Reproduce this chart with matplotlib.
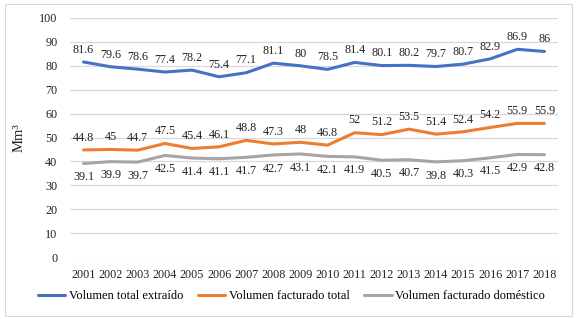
import matplotlib
matplotlib.use("Agg")
import matplotlib.pyplot as plt
from matplotlib.patches import Rectangle

years = [str(y) for y in range(2001, 2019)]
extraido = [81.6, 79.6, 78.6, 77.4, 78.2, 75.4, 77.1, 81.1, 80, 78.5, 81.4, 80.1, 80.2, 79.7, 80.7, 82.9, 86.9, 86]
fact_total = [44.8, 45, 44.7, 47.5, 45.4, 46.1, 48.8, 47.3, 48, 46.8, 52, 51.2, 53.5, 51.4, 52.4, 54.2, 55.9, 55.9]
fact_dom = [39.1, 39.9, 39.7, 42.5, 41.4, 41.1, 41.7, 42.7, 43.1, 42.1, 41.9, 40.5, 40.7, 39.8, 40.3, 41.5, 42.9, 42.8]
labels = ["Volumen total extraído", "Volumen facturado total", "Volumen facturado doméstico"]
colors = ["#4472C4", "#ED7D31", "#A5A5A5"]

plt.rcParams['font.family'] = ['Liberation Serif', 'DejaVu Serif']

fig = plt.figure(figsize=(5.77, 3.19), dpi=100)
ax = fig.add_axes([70/577, 1-257/319, 488/577, 239/319])

x = list(range(len(years)))
series = [extraido, fact_total, fact_dom]
offsets = [4.5, 4.5, -5.5]
for vals, lab, col, off in zip(series, labels, colors, offsets):
    ax.plot(x, vals, color=col, lw=2.2, label=lab, solid_capstyle='round', solid_joinstyle='round')
    for xi, v in zip(x, vals):
        ax.annotate(f"{v:g}", (xi, v), xytext=(0, off), textcoords='offset points',
                    ha='center', va='bottom' if off > 0 else 'top', fontsize=8.7, color='#222222')

ax.set_xlim(-0.5, len(years) - 0.5)
ax.set_ylim(0, 100)
ax.set_yticks(range(0, 101, 10))
ax.set_xticks(x)
ax.set_xticklabels(years)
ax.tick_params(axis='both', length=0, labelsize=8.7, colors='#222222')
ax.tick_params(axis='y', pad=9)
ax.tick_params(axis='x', pad=9)
ax.grid(axis='y', color='#D9D9D9', lw=0.9)
ax.set_axisbelow(True)
for s in ax.spines.values():
    s.set_visible(False)
ax.set_ylabel("Mm³", fontsize=10.5, labelpad=10, color='#222222')

fig.legend(loc='center', bbox_to_anchor=(0.505, 1-296/319), ncol=3, frameon=False,
           fontsize=9, handlelength=2.2, columnspacing=1.2, handletextpad=0.25)

fig.patches.append(Rectangle((5/577, 3/319), 567/577, 312/319, transform=fig.transFigure,
                             fill=False, edgecolor='#D9D9D9', lw=0.8))

fig.savefig("out.png", dpi=100)
